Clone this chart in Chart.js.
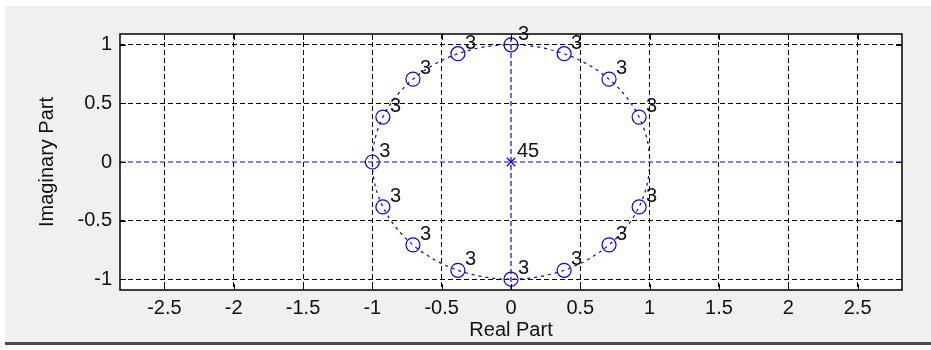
<!DOCTYPE html>
<html>
<head>
<meta charset="utf-8">
<script src="https://cdn.jsdelivr.net/npm/chart.js@4.4.0/dist/chart.umd.min.js"></script>
<style>
  body { margin: 0; background: #fff; }
  #wrap { position: relative; width: 931px; height: 350px; }
  #panel { position: absolute; left: 5px; top: 6px; right: 0; height: 336px; background: #f0f0f0; border-bottom: 3px solid #4a4a4a; }
  #plot { position: absolute; left: 0; top: 0; }
</style>
</head>
<body>
<div id="wrap">
  <div id="panel"></div>
  <canvas id="plot" width="931" height="350"></canvas>
</div>
<script>
// zeros (all on the unit circle) and their multiplicity
const zeroRe = [0.924, 0.707, 0.383, 0, -0.383, -0.707, -0.924, -1, -0.924, -0.707, -0.383, 0, 0.383, 0.707, 0.924];
const zeroIm = [0.383, 0.707, 0.924, 1, 0.924, 0.707, 0.383, 0, -0.383, -0.707, -0.924, -1, -0.924, -0.707, -0.383];
const zeroMult = [3, 3, 3, 3, 3, 3, 3, 3, 3, 3, 3, 3, 3, 3, 3];

// poles
const poleRe = [0];
const poleIm = [0];
const poleMult = [45];

// axes
const xLimits = [-2.82, 2.82];
const yLimits = [-1.092, 1.092];
const xTicks = [-2.5, -2, -1.5, -1, -0.5, 0, 0.5, 1, 1.5, 2, 2.5];
const xTickLabels = ["-2.5", "-2", "-1.5", "-1", "-0.5", "0", "0.5", "1", "1.5", "2", "2.5"];
const yTicks = [-1, -0.5, 0, 0.5, 1];
const yTickLabels = ["-1", "-0.5", "0", "0.5", "1"];

const blue = "#0000ff";
const tickFont = { family: "'Liberation Sans', Arial, sans-serif", size: 20 };

const zeroPoints = zeroRe.map((re, i) => ({ x: re, y: zeroIm[i] }));
const polePoints = poleRe.map((re, i) => ({ x: re, y: poleIm[i] }));

// black dashed grid, except where the blue axis lines run
const gridColor = ctx => (ctx.tick && ctx.tick.value === 0) ? "rgba(0,0,0,0)" : "#000";

// white plot area
const plotBack = {
    id: "plotBack",
    beforeDraw(chart) {
        const { ctx, chartArea: a } = chart;
        ctx.save();
        ctx.fillStyle = "#fff";
        ctx.fillRect(a.left, a.top, a.right - a.left, a.bottom - a.top);
        ctx.restore();
    }
};

// unit circle, drawn through the scales
const unitCircle = {
    id: "unitCircle",
    beforeDatasetsDraw(chart) {
        const { ctx } = chart;
        const xs = chart.scales.x, ys = chart.scales.y;
        const cx = xs.getPixelForValue(0), cy = ys.getPixelForValue(0);
        const rx = xs.getPixelForValue(1) - cx;
        const ry = cy - ys.getPixelForValue(1);
        ctx.save();
        ctx.strokeStyle = blue;
        ctx.lineWidth = 1.2;
        ctx.setLineDash([3, 4]);
        ctx.beginPath();
        ctx.ellipse(cx, cy, rx, ry, 0, 0, Math.PI * 2);
        ctx.stroke();
        ctx.restore();
    }
};

// box, inward tick marks and multiplicity labels
const frameAndLabels = {
    id: "frameAndLabels",
    afterDatasetsDraw(chart) {
        const { ctx, chartArea: a } = chart;
        const xs = chart.scales.x, ys = chart.scales.y;
        ctx.save();
        ctx.strokeStyle = "#000";
        ctx.lineWidth = 1;
        ctx.beginPath();
        xTicks.forEach(v => {
            const px = Math.round(xs.getPixelForValue(v)) + 0.5;
            ctx.moveTo(px, a.top); ctx.lineTo(px, a.top + 6);
            ctx.moveTo(px, a.bottom); ctx.lineTo(px, a.bottom - 6);
        });
        yTicks.forEach(v => {
            const py = Math.round(ys.getPixelForValue(v)) + 0.5;
            ctx.moveTo(a.left, py); ctx.lineTo(a.left + 6, py);
            ctx.moveTo(a.right, py); ctx.lineTo(a.right - 6, py);
        });
        ctx.stroke();
        ctx.lineWidth = 1.5;
        ctx.strokeRect(a.left, a.top, a.right - a.left, a.bottom - a.top);

        ctx.fillStyle = "#111";
        ctx.font = "20px 'Liberation Sans', Arial, sans-serif";
        ctx.textAlign = "left";
        ctx.textBaseline = "alphabetic";
        zeroRe.forEach((re, i) => {
            const px = xs.getPixelForValue(re), py = ys.getPixelForValue(zeroIm[i]);
            ctx.fillText(String(zeroMult[i]), px + 7, py - 5);
        });
        poleRe.forEach((re, i) => {
            const px = xs.getPixelForValue(re), py = ys.getPixelForValue(poleIm[i]);
            ctx.fillText(String(poleMult[i]), px + 6, py - 5);
        });
        ctx.restore();
    }
};

new Chart(document.getElementById("plot"), {
    type: "scatter",
    data: {
        datasets: [
            {
                label: "zeros",
                data: zeroPoints,
                pointStyle: "circle",
                pointRadius: 7,
                pointBorderColor: blue,
                pointBackgroundColor: "rgba(0,0,0,0)",
                pointBorderWidth: 1.2
            },
            {
                label: "poles",
                data: polePoints,
                pointStyle: "crossRot",
                pointRadius: 6,
                pointBorderColor: blue,
                pointBorderWidth: 1.2
            },
            {
                label: "real axis",
                data: [{ x: xLimits[0], y: 0 }, { x: xLimits[1], y: 0 }],
                showLine: true,
                borderColor: blue,
                borderWidth: 1.2,
                borderDash: [5, 3],
                pointRadius: 0
            },
            {
                label: "imag axis",
                data: [{ x: 0, y: yLimits[0] }, { x: 0, y: yLimits[1] }],
                showLine: true,
                borderColor: blue,
                borderWidth: 1.2,
                borderDash: [5, 3],
                pointRadius: 0
            }
        ]
    },
    options: {
        responsive: false,
        animation: false,
        layout: { padding: { top: 34, right: 29, left: 0, bottom: 0 } },
        plugins: {
            legend: { display: false },
            tooltip: { enabled: false }
        },
        scales: {
            x: {
                type: "linear",
                min: xLimits[0],
                max: xLimits[1],
                afterFit(scale) { scale.height = 60; },
                afterBuildTicks(scale) { scale.ticks = xTicks.map(v => ({ value: v })); },
                ticks: {
                    color: "#111",
                    font: tickFont,
                    padding: 6,
                    maxRotation: 0,
                    autoSkip: false,
                    callback: (v, i) => xTickLabels[i]
                },
                grid: { color: gridColor, lineWidth: 1, drawTicks: false },
                border: { display: false, dash: [5, 3] },
                title: {
                    display: true,
                    text: "Real Part",
                    color: "#111",
                    font: tickFont,
                    padding: { top: 0, bottom: 8 }
                }
            },
            y: {
                type: "linear",
                min: yLimits[0],
                max: yLimits[1],
                afterFit(scale) { scale.width = 120; },
                afterBuildTicks(scale) { scale.ticks = yTicks.map(v => ({ value: v })); },
                ticks: {
                    color: "#111",
                    font: tickFont,
                    padding: 8,
                    autoSkip: false,
                    callback: (v, i) => yTickLabels[i]
                },
                grid: { color: gridColor, lineWidth: 1, drawTicks: false },
                border: { display: false, dash: [5, 3] },
                title: {
                    display: true,
                    text: "Imaginary Part",
                    color: "#111",
                    font: tickFont,
                    padding: { top: 35, bottom: 0 }
                }
            }
        }
    },
    plugins: [plotBack, unitCircle, frameAndLabels]
});
</script>
</body>
</html>
